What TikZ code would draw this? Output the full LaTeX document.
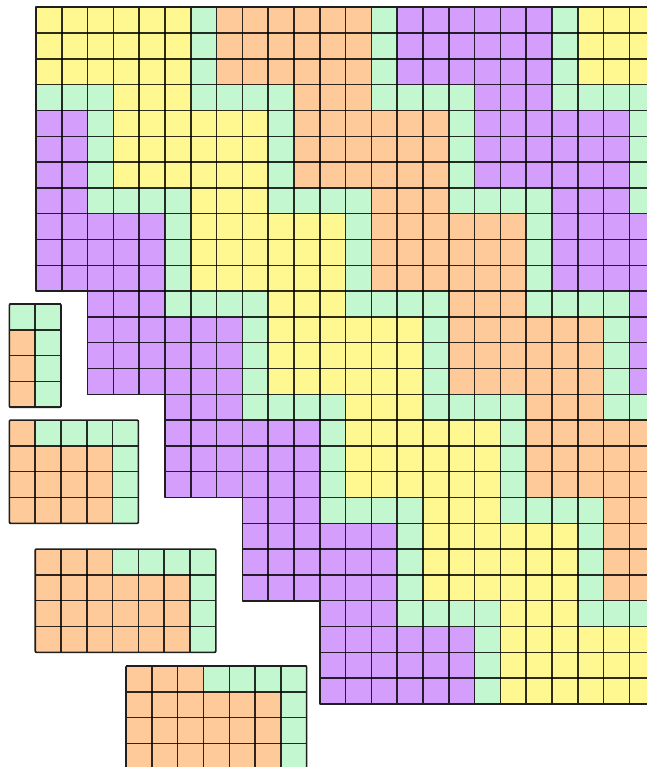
\documentclass[tikz,border=0pt]{standalone}
\definecolor{tyellow}{HTML}{FFF78F}
\definecolor{torange}{HTML}{FFCA99}
\definecolor{tpurple}{HTML}{D49EFC}
\definecolor{tgreen}{HTML}{C2F7CF}
\tikzset{
  gridln/.style={line width=1.45pt, draw=black, draw opacity=0.82},
  border/.style={line width=1.6pt, draw=black!88, line join=round}
}
\newcommand{\drawtile}[3]{%
  \fill[#3] (#1,#2) rectangle ++(7,4);
  \fill[tgreen] ({#1+3},#2) rectangle ++(4,1);
  \fill[tgreen] ({#1+6},#2) rectangle ++(1,4);
}
\newcommand{\tilepiece}[4]{%
  \begin{scope}
    \clip (#1,#2) rectangle ++(#4,4);
    \drawtile{#1-#3}{#2}{torange}
    \foreach \k in {0,...,7} \draw[gridln] ({#1+\k},#2) -- ++(0,4);
    \foreach \k in {0,...,4} \draw[gridln] (#1,{#2+\k}) -- ++(#4,0);
  \end{scope}
  \draw[border, rounded corners=1pt] (#1,#2) rectangle ++(#4,4);
}
\begin{document}
\begin{tikzpicture}[x=25.8pt, y=-25.8pt]
\clip (-1.3953,-0.2829) rectangle (23.682,29.446);
\fill[white] (-1.3953,-0.2829) rectangle (23.682,29.446);
% main staircase region
\begin{scope}
  \clip (0,0) -- (25,0) -- (25,27) -- (11,27) -- (11,23) -- (8,23) -- (8,19) -- (5,19) -- (5,15) -- (2,15) -- (2,11) -- (0,11) -- cycle;
  \foreach \j in {0,...,6} {
    \foreach \i/\col in {-1/tpurple,0/tyellow,1/torange,2/tpurple,3/tyellow} {
      \pgfmathsetmacro\sx{3*\j+7*\i}
      \pgfmathsetmacro\sy{4*\j-1}
      \drawtile{\sx}{\sy}{\col}
    }
  }
  \foreach \x in {0,...,24} \draw[gridln] (\x,0) -- (\x,27);
  \foreach \y in {0,...,27} \draw[gridln] (0,\y) -- (25,\y);
\end{scope}
\draw[border] (25,0) -- (0,0) -- (0,11) -- (2,11) -- (2,15) -- (5,15) -- (5,19) -- (8,19) -- (8,23) -- (11,23) -- (11,27) -- (25,27);
% loose pieces
\tilepiece{-1.03}{11.5}{5}{2}
\tilepiece{-1.03}{16.0}{2}{5}
\tilepiece{-0.03}{21.0}{0}{7}
\tilepiece{3.49}{25.53}{0}{7}
\end{tikzpicture}
\end{document}
